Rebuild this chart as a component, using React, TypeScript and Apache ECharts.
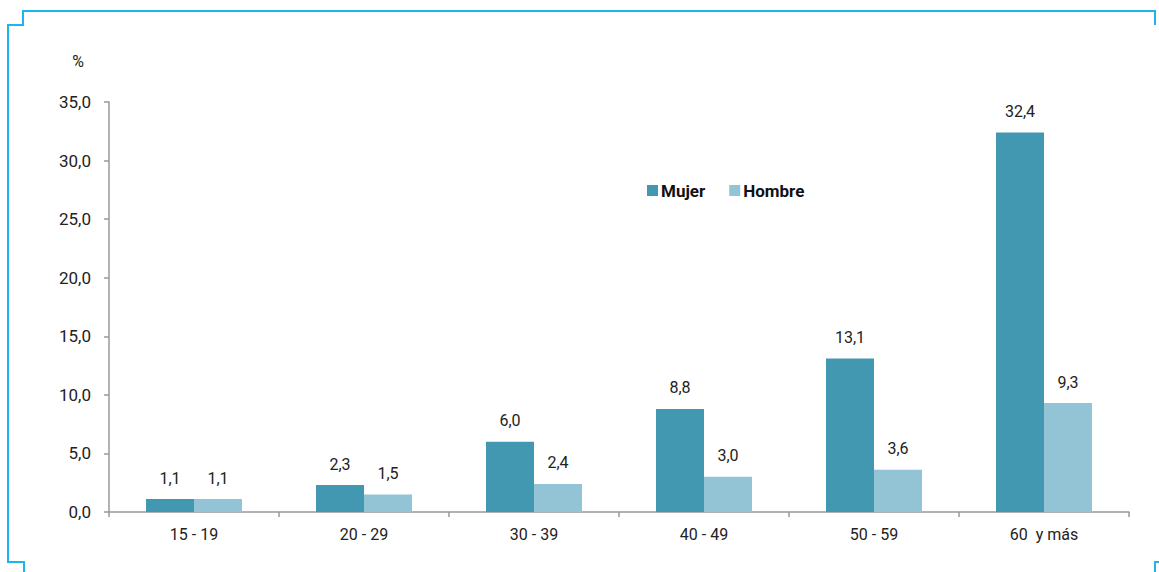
import React, { useEffect, useRef } from "react";
import * as echarts from "echarts";

const categories = ["15 - 19", "20 - 29", "30 - 39", "40 - 49", "50 - 59", "60  y más"];
const mujer = [1.1, 2.3, 6.0, 8.8, 13.1, 32.4];
const hombre = [1.1, 1.5, 2.4, 3.0, 3.6, 9.3];
const seriesNames = ["Mujer", "Hombre"];

const fmt = (v: number) => Number(v).toFixed(1).replace(".", ",");

export default function App() {
  const ref = useRef<HTMLDivElement>(null);
  useEffect(() => {
    if (!ref.current) return;
    const chart = echarts.init(ref.current, undefined, { renderer: "svg" });
    const font = "Roboto, 'Liberation Sans', sans-serif";
    const frameColor = "#1FB4EE";
    chart.setOption({
      animation: false,
      backgroundColor: "#ffffff",
      textStyle: { fontFamily: font },
      grid: { left: 109, right: 30, top: 102, bottom: 60, containLabel: false },
      legend: {
        data: seriesNames,
        left: 642,
        top: 177,
        itemWidth: 11,
        itemHeight: 11,
        itemGap: 24,
        icon: "rect",
        textStyle: { fontFamily: font, fontSize: 17, fontWeight: "bold", color: "#111", padding: [0, 0, 0, -2] },
      },
      xAxis: {
        type: "category",
        data: categories,
        axisLine: { lineStyle: { color: "#999", width: 1.5 } },
        axisTick: { show: true, length: 5, lineStyle: { color: "#999", width: 1.5 } },
        axisLabel: { color: "#222", fontSize: 16, margin: 14, fontFamily: font },
      },
      yAxis: {
        type: "value",
        min: 0,
        max: 35,
        interval: 5,
        splitLine: { show: false },
        axisLine: { show: true, lineStyle: { color: "#999", width: 1.5 } },
        axisTick: { show: true, length: 5, lineStyle: { color: "#999", width: 1.5 } },
        axisLabel: { color: "#222", fontSize: 17, margin: 18, formatter: fmt, fontFamily: font },
      },
      series: [
        {
          name: seriesNames[0],
          type: "bar",
          data: mujer,
          barWidth: 48,
          barGap: "0%",
          itemStyle: { color: "#4298B0" },
          label: { show: true, position: "top", distance: 13, color: "#222", fontSize: 16, formatter: (p: any) => fmt(p.value), fontFamily: font },
        },
        {
          name: seriesNames[1],
          type: "bar",
          data: hombre,
          barWidth: 48,
          barGap: "0%",
          itemStyle: { color: "#93C4D6" },
          label: { show: true, position: "top", distance: 13, color: "#222", fontSize: 16, formatter: (p: any) => fmt(p.value), fontFamily: font },
        },
      ],
      graphic: [
        {
          type: "polyline",
          shape: { points: [[24, 572], [24, 562], [8, 562], [8, 25], [23, 25], [23, 11], [1155, 11], [1155, 25]] },
          style: { stroke: frameColor, lineWidth: 2, fill: "none" },
        },
        {
          type: "polyline",
          shape: { points: [[1155, 572], [1155, 562], [1159, 562]] },
          style: { stroke: frameColor, lineWidth: 2, fill: "none" },
        },
        {
          type: "text",
          x: 78,
          y: 61,
          style: { text: "%", fontSize: 16, fill: "#222", align: "center", verticalAlign: "middle", fontFamily: font },
        },
      ],
    });
    return () => chart.dispose();
  }, []);
  return <div ref={ref} style={{ position: "fixed", left: 0, top: 0, width: 1159, height: 572 }} />;
}
